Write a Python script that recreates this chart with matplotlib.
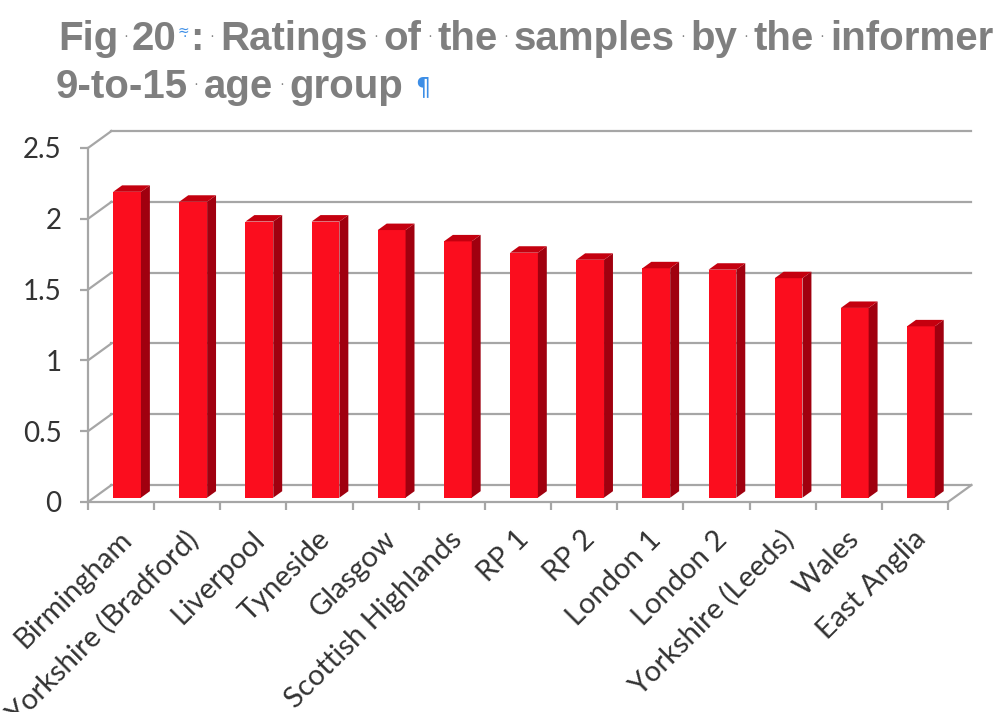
import numpy as np
import matplotlib.pyplot as plt
from matplotlib.patches import Polygon

plt.rcParams['font.family'] = ['Lato', 'DejaVu Sans']

# ratings
regions = ['Birmingham', 'Yorkshire (Bradford)', 'Liverpool', 'Tyneside', 'Glasgow',
           'Scottish Highlands', 'RP 1', 'RP 2', 'London 1', 'London 2',
           'Yorkshire (Leeds)', 'Wales', 'East Anglia']
ratings = [2.16, 2.09, 1.95, 1.95, 1.89, 1.81, 1.73, 1.68, 1.62, 1.61, 1.55, 1.34, 1.21]
y_ticks = [0, 0.5, 1, 1.5, 2, 2.5]
y_tick_labels = ['0', '0.5', '1', '1.5', '2', '2.5']

GRID = '#a6a6a6'
FRONT = '#fb0d1e'
SIDE = '#a0000f'
TOP = '#c4000f'
TXT = '#333333'

# oblique depth of the 3d box (data units) and the bars inside it
DX, DY = 0.355, 0.12
d0, bd, w = 0.255, 0.38, 0.42

fig = plt.figure(figsize=(9.96, 7.12), dpi=100)
ax = fig.add_axes([88/996, 1 - 502/712, 860/996, 354/712])
n = len(regions)
ax.set_xlim(-0.5, n - 0.5)
ax.set_ylim(0, 2.5)

# back wall + left wall gridlines
for v in y_ticks:
    ax.plot([-0.5 + DX, n - 0.5 + DX], [v + DY, v + DY], color=GRID, lw=1.6, clip_on=False, zorder=1)
    ax.plot([-0.5, -0.5 + DX], [v, v + DY], color=GRID, lw=1.6, clip_on=False, zorder=1)
ax.plot([n - 0.5, n - 0.5 + DX], [0, DY], color=GRID, lw=1.6, clip_on=False, zorder=1)

# bars: front face, then side and top
x = np.arange(n)
x0 = x - w / 2 + d0 * DX
ax.bar(x + d0 * DX, ratings, width=w, bottom=d0 * DY, color=FRONT, zorder=3)
for xl, v in zip(x0, ratings):
    b = d0 * DY
    side = [(xl + w, b), (xl + w, v + b), (xl + w + bd * DX, v + b + bd * DY), (xl + w + bd * DX, b + bd * DY)]
    top = [(xl, v + b), (xl + w, v + b), (xl + w + bd * DX, v + b + bd * DY), (xl + bd * DX, v + b + bd * DY)]
    ax.add_patch(Polygon(side, closed=True, facecolor=SIDE, edgecolor='none', zorder=3))
    ax.add_patch(Polygon(top, closed=True, facecolor=TOP, edgecolor='none', zorder=3))

for s in ['top', 'right']:
    ax.spines[s].set_visible(False)
for s in ['left', 'bottom']:
    ax.spines[s].set_color(GRID)
    ax.spines[s].set_linewidth(1.6)

ax.set_yticks(y_ticks, y_tick_labels)
ax.tick_params(axis='y', direction='out', length=6, width=1.6, color=GRID, pad=13,
               labelsize=20, labelcolor=TXT)
ax.set_xticks(np.arange(n + 1) - 0.5, [''] * (n + 1))
ax.set_xticks(x + 0.1, regions, minor=True)
ax.tick_params(axis='x', which='major', direction='out', length=6, width=1.6, color=GRID)
ax.tick_params(axis='x', which='minor', length=0, pad=24, labelsize=21, labelcolor=TXT)
for lab in ax.get_xticklabels(minor=True):
    lab.set_rotation(45)
    lab.set_ha('right')
    lab.set_va('center')
    lab.set_rotation_mode('anchor')

# title, as typed in Word with formatting marks shown
GRAY = '#7f7f7f'
BLUE = '#3d8ee6'
tax = fig.add_axes([0, 0, 1, 1])
tax.axis('off')
word = dict(fontsize=29, fontweight='bold', color=GRAY, family='Liberation Sans')
SP = 16

def put(prev, s, y, gap, dy=0, **kw):
    return tax.annotate(s, xy=(1, y), xycoords=(prev, 'figure pixels'), xytext=(gap, dy),
                        textcoords='offset pixels', va='baseline', ha='left', **kw)

def dot(prev, y):
    tax.annotate('·', xy=(1, y), xycoords=(prev, 'figure pixels'), xytext=(SP / 2, 10),
                 textcoords='offset pixels', va='baseline', ha='center', fontsize=8, color=GRAY)

y1, y2 = 712 - 50, 712 - 98
t = tax.text(58, y1, 'Fig', transform=None, va='baseline', **word)
dot(t, y1)
t = put(t, '20', y1, 13, **word)
t = put(t, '≈', y1, 2, dy=15, fontsize=10, color=BLUE, family='DejaVu Sans')
put(t, '·', y1, -7, dy=9, fontsize=10, color=BLUE, family='DejaVu Sans')
t = put(t, ':', y1, 1, **word)
for s in ['Ratings', 'of', 'the', 'samples', 'by', 'the', 'informer']:
    dot(t, y1)
    t = put(t, s, y1, SP, **word)

t = tax.text(56, y2, '9-to-15', transform=None, va='baseline', **word)
for s in ['age', 'group']:
    dot(t, y2)
    t = put(t, s, y2, SP, **word)
put(t, '¶', y2, 12, dy=4, fontsize=17, color=BLUE, family='DejaVu Sans')

fig.savefig('out.png', dpi=100, facecolor='white')
